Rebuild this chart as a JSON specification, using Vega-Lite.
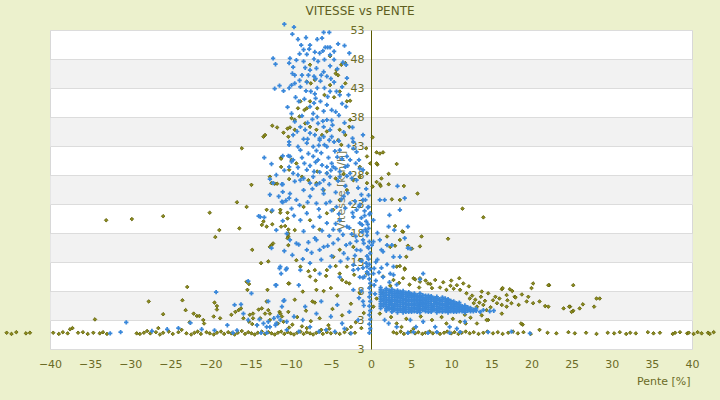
{
  "$schema": "https://vega.github.io/schema/vega-lite/v6.json",
  "width": 642,
  "height": 319,
  "autosize": {"type": "none"},
  "padding": {"left": 50, "top": 30, "right": 28, "bottom": 51},
  "background": "#ECF1CD",
  "title": {"text": "VITESSE vs PENTE", "anchor": "middle", "dx": -11, "offset": 4, "fontSize": 12, "fontWeight": "normal", "color": "#5e5e1e"},
  "config": {
    "font": "DejaVu Sans",
    "view": {"fill": "white", "stroke": "#d8d8d8"}
  },
  "datasets": {
    "olive": [
      {"pente":-45.4,"vitesse":0.8},{"pente":-44.8,"vitesse":0.6},{"pente":-44.2,"vitesse":0.9},{"pente":-43.0,"vitesse":0.7},{"pente":-42.5,"vitesse":0.8},
      {"pente":-39.6,"vitesse":0.8},{"pente":-38.9,"vitesse":0.6},{"pente":-38.4,"vitesse":0.9},{"pente":-37.8,"vitesse":0.7},{"pente":-37.2,"vitesse":1.6},{"pente":-36.5,"vitesse":0.8},{"pente":-35.9,"vitesse":0.9},{"pente":-35.3,"vitesse":0.6},{"pente":-34.6,"vitesse":0.8},{"pente":-33.8,"vitesse":0.7},{"pente":-33.4,"vitesse":0.9},{"pente":-32.9,"vitesse":0.6},
      {"pente":-29.2,"vitesse":0.7},{"pente":-28.8,"vitesse":0.6},{"pente":-28.3,"vitesse":0.8},{"pente":-27.9,"vitesse":1.1},{"pente":-27.5,"vitesse":0.7},{"pente":-26.8,"vitesse":0.9},{"pente":-26.3,"vitesse":0.5},{"pente":-25.9,"vitesse":0.8},{"pente":-25.2,"vitesse":1.0},{"pente":-24.7,"vitesse":0.6},{"pente":-24.0,"vitesse":0.9},{"pente":-23.6,"vitesse":1.3},{"pente":-23.0,"vitesse":0.7},{"pente":-22.4,"vitesse":0.5},{"pente":-22.0,"vitesse":0.8},{"pente":-21.6,"vitesse":1.0},{"pente":-21.2,"vitesse":0.6},{"pente":-20.5,"vitesse":0.9},{"pente":-20.1,"vitesse":0.7},{"pente":-19.6,"vitesse":0.5},{"pente":-19.2,"vitesse":0.8},{"pente":-18.7,"vitesse":1.0},{"pente":-18.3,"vitesse":0.6},{"pente":-17.8,"vitesse":0.9},{"pente":-17.4,"vitesse":0.7},{"pente":-17.0,"vitesse":0.5},{"pente":-16.6,"vitesse":0.8},{"pente":-16.1,"vitesse":1.1},{"pente":-15.7,"vitesse":0.6},{"pente":-15.3,"vitesse":0.9},{"pente":-14.9,"vitesse":0.7},{"pente":-14.5,"vitesse":0.5},{"pente":-14.1,"vitesse":0.8},{"pente":-13.6,"vitesse":1.0},{"pente":-13.2,"vitesse":0.6},{"pente":-12.8,"vitesse":0.9},{"pente":-12.4,"vitesse":0.7},{"pente":-12.0,"vitesse":0.5},{"pente":-11.6,"vitesse":0.8},{"pente":-11.2,"vitesse":1.0},{"pente":-10.8,"vitesse":0.6},{"pente":-10.4,"vitesse":0.9},{"pente":-10.0,"vitesse":0.7},{"pente":-9.6,"vitesse":0.5},{"pente":-9.2,"vitesse":0.8},{"pente":-8.8,"vitesse":1.0},{"pente":-8.4,"vitesse":0.6},{"pente":-8.0,"vitesse":0.9},{"pente":-7.6,"vitesse":0.7},{"pente":-7.2,"vitesse":0.5},{"pente":-6.8,"vitesse":0.8},{"pente":-6.4,"vitesse":1.0},{"pente":-6.0,"vitesse":0.6},{"pente":-5.5,"vitesse":0.9},{"pente":-5.0,"vitesse":0.7},{"pente":-4.4,"vitesse":0.8},{"pente":-3.9,"vitesse":0.6},{"pente":-3.3,"vitesse":0.9},{"pente":-2.6,"vitesse":0.7},{"pente":-2.0,"vitesse":0.8},
      {"pente":2.8,"vitesse":0.9},{"pente":3.2,"vitesse":0.7},{"pente":3.7,"vitesse":1.0},{"pente":4.1,"vitesse":0.6},{"pente":4.6,"vitesse":0.8},{"pente":5.0,"vitesse":1.0},{"pente":5.5,"vitesse":0.7},{"pente":5.9,"vitesse":0.9},{"pente":6.4,"vitesse":0.6},{"pente":6.8,"vitesse":0.8},{"pente":7.3,"vitesse":1.0},{"pente":7.7,"vitesse":0.7},{"pente":8.2,"vitesse":0.9},{"pente":8.6,"vitesse":0.6},{"pente":9.1,"vitesse":0.8},{"pente":9.5,"vitesse":1.0},{"pente":10.0,"vitesse":0.7},{"pente":10.4,"vitesse":0.9},{"pente":10.9,"vitesse":0.6},{"pente":11.3,"vitesse":0.8},{"pente":11.8,"vitesse":1.0},{"pente":12.3,"vitesse":0.7},{"pente":12.8,"vitesse":0.9},{"pente":13.4,"vitesse":0.6},{"pente":14.0,"vitesse":0.8},{"pente":14.5,"vitesse":1.0},{"pente":15.2,"vitesse":0.7},{"pente":15.8,"vitesse":0.9},{"pente":16.4,"vitesse":0.6},{"pente":17.1,"vitesse":0.8},{"pente":17.7,"vitesse":1.0},{"pente":18.3,"vitesse":0.7},{"pente":19.0,"vitesse":0.9},{"pente":19.9,"vitesse":0.6},{"pente":21.0,"vitesse":1.3},{"pente":22.0,"vitesse":0.8},{"pente":23.1,"vitesse":0.7},{"pente":24.6,"vitesse":0.9},{"pente":25.4,"vitesse":0.7},{"pente":26.8,"vitesse":0.8},{"pente":28.1,"vitesse":0.6},{"pente":29.5,"vitesse":0.8},{"pente":30.3,"vitesse":0.7},{"pente":31.0,"vitesse":0.9},{"pente":31.8,"vitesse":0.6},{"pente":32.3,"vitesse":0.8},{"pente":33.0,"vitesse":0.7},{"pente":34.5,"vitesse":0.9},{"pente":35.2,"vitesse":0.7},{"pente":36.0,"vitesse":0.8},{"pente":37.6,"vitesse":0.6},{"pente":37.9,"vitesse":0.8},{"pente":38.5,"vitesse":0.9},{"pente":39.4,"vitesse":0.7},{"pente":39.6,"vitesse":0.8},{"pente":40.2,"vitesse":0.6},{"pente":40.7,"vitesse":0.9},{"pente":41.2,"vitesse":0.7},{"pente":42.0,"vitesse":0.8},{"pente":42.2,"vitesse":0.6},{"pente":42.7,"vitesse":0.9},{"pente":43.8,"vitesse":0.7},
      {"pente":-7.6,"vitesse":47.0},{"pente":-5.1,"vitesse":48.5},{"pente":-4.3,"vitesse":46.1},{"pente":-4.4,"vitesse":45.5},{"pente":-4.1,"vitesse":45.2},{"pente":-3.7,"vitesse":47.0},{"pente":-3.2,"vitesse":47.3},{"pente":-5.1,"vitesse":43.5},{"pente":-3.9,"vitesse":42.4},{"pente":-4.6,"vitesse":41.4},{"pente":-3.0,"vitesse":40.7},{"pente":-8.8,"vitesse":40.7},{"pente":-8.3,"vitesse":39.2},{"pente":-7.6,"vitesse":40.7},{"pente":-6.7,"vitesse":39.5},{"pente":-9.9,"vitesse":37.8},{"pente":-9.5,"vitesse":37.5},{"pente":-8.9,"vitesse":38.1},{"pente":-8.2,"vitesse":36.9},{"pente":-10.1,"vitesse":36.2},{"pente":-10.4,"vitesse":36.0},{"pente":-12.3,"vitesse":36.5},{"pente":-11.7,"vitesse":36.2},{"pente":-13.4,"vitesse":34.6},{"pente":-13.2,"vitesse":34.9},{"pente":-16.1,"vitesse":32.6},{"pente":-10.9,"vitesse":35.3},{"pente":-10.3,"vitesse":34.6},{"pente":-7.6,"vitesse":36.3},{"pente":-6.8,"vitesse":35.8},{"pente":-6.1,"vitesse":34.9},{"pente":-5.5,"vitesse":35.5},{"pente":-3.9,"vitesse":35.8},{"pente":-3.2,"vitesse":34.9},{"pente":-2.7,"vitesse":36.3},{"pente":-0.6,"vitesse":32.6},{"pente":0.2,"vitesse":34.5},{"pente":-0.5,"vitesse":31.2},{"pente":-0.1,"vitesse":30.0},{"pente":0.7,"vitesse":31.9},{"pente":0.8,"vitesse":29.8},{"pente":-11.2,"vitesse":31.0},{"pente":-11.2,"vitesse":29.4},{"pente":-9.9,"vitesse":30.6},{"pente":-9.3,"vitesse":30.0},{"pente":-8.6,"vitesse":27.7},{"pente":-7.8,"vitesse":27.1},{"pente":-6.7,"vitesse":28.6},{"pente":-5.5,"vitesse":28.3},{"pente":-4.4,"vitesse":27.4},{"pente":-3.4,"vitesse":28.2},{"pente":-1.4,"vitesse":27.7},{"pente":-0.5,"vitesse":26.6},{"pente":0.2,"vitesse":26.0},{"pente":-12.6,"vitesse":27.7},{"pente":-12.4,"vitesse":26.6},{"pente":-14.9,"vitesse":26.3},{"pente":-8.0,"vitesse":44.1},{"pente":-7.5,"vitesse":43.8},{"pente":-7.0,"vitesse":44.4},{"pente":-3.2,"vitesse":43.8},{"pente":-2.6,"vitesse":40.8},{"pente":-5.8,"vitesse":41.8},{"pente":-8.0,"vitesse":39.5},{"pente":-9.1,"vitesse":39.5},{"pente":-9.5,"vitesse":35.8},{"pente":-2.6,"vitesse":37.5},{"pente":-4.1,"vitesse":34.0},{"pente":-3.7,"vitesse":33.2},
      {"pente":-12.0,"vitesse":26.5},{"pente":-16.7,"vitesse":23.3},{"pente":-15.5,"vitesse":22.5},{"pente":-20.1,"vitesse":21.5},{"pente":-13.0,"vitesse":22.0},{"pente":-13.6,"vitesse":19.4},{"pente":-13.0,"vitesse":19.1},{"pente":-12.4,"vitesse":21.7},{"pente":-11.3,"vitesse":22.0},{"pente":-10.4,"vitesse":20.5},{"pente":-18.9,"vitesse":18.5},{"pente":-19.4,"vitesse":17.3},{"pente":-16.4,"vitesse":18.8},{"pente":-14.8,"vitesse":15.1},{"pente":-12.4,"vitesse":15.9},{"pente":-12.2,"vitesse":16.2},{"pente":-13.7,"vitesse":12.8},{"pente":-12.8,"vitesse":13.1},{"pente":-10.3,"vitesse":17.4},{"pente":-9.5,"vitesse":18.5},{"pente":-10.3,"vitesse":15.9},{"pente":-8.8,"vitesse":12.2},{"pente":-9.3,"vitesse":13.3},{"pente":-7.6,"vitesse":10.5},{"pente":-7.0,"vitesse":11.6},{"pente":-5.5,"vitesse":11.6},{"pente":-4.7,"vitesse":13.9},{"pente":-3.9,"vitesse":15.1},{"pente":-3.0,"vitesse":12.2},{"pente":-2.2,"vitesse":15.6},{"pente":-1.4,"vitesse":13.3},{"pente":-0.5,"vitesse":11.0},{"pente":-6.8,"vitesse":26.6},{"pente":-5.9,"vitesse":25.4},{"pente":-4.7,"vitesse":22.0},{"pente":-3.9,"vitesse":23.7},{"pente":-3.0,"vitesse":25.4},{"pente":-2.2,"vitesse":27.1},{"pente":-1.4,"vitesse":29.4},{"pente":-0.5,"vitesse":28.3},{"pente":-8.4,"vitesse":22.5},{"pente":-7.6,"vitesse":20.2},{"pente":-6.4,"vitesse":18.6},{"pente":-5.5,"vitesse":21.4},
      {"pente":1.1,"vitesse":31.7},{"pente":1.5,"vitesse":31.9},{"pente":0.7,"vitesse":30.0},{"pente":3.2,"vitesse":29.9},{"pente":2.2,"vitesse":28.2},{"pente":1.3,"vitesse":27.4},{"pente":0.7,"vitesse":26.8},{"pente":1.1,"vitesse":26.4},{"pente":4.1,"vitesse":26.1},{"pente":5.8,"vitesse":24.8},{"pente":3.6,"vitesse":23.7},{"pente":2.6,"vitesse":23.8},{"pente":11.4,"vitesse":22.2},{"pente":14.0,"vitesse":20.7},{"pente":9.6,"vitesse":17.0},{"pente":6.3,"vitesse":17.4},{"pente":6.1,"vitesse":15.7},{"pente":4.0,"vitesse":18.2},{"pente":3.6,"vitesse":16.8},{"pente":5.1,"vitesse":15.3},{"pente":4.4,"vitesse":13.9},{"pente":2.0,"vitesse":17.4},{"pente":2.4,"vitesse":15.6},{"pente":3.2,"vitesse":12.2},{"pente":4.2,"vitesse":11.9},{"pente":1.5,"vitesse":10.5},{"pente":5.3,"vitesse":10.2},{"pente":6.1,"vitesse":10.2},{"pente":11.0,"vitesse":10.2},{"pente":1.2,"vitesse":26.1},{"pente":2.2,"vitesse":26.4},{"pente":3.0,"vitesse":19.2},{"pente":3.9,"vitesse":18.3},{"pente":3.0,"vitesse":15.8},{"pente":4.6,"vitesse":15.8},{"pente":3.6,"vitesse":12.3},{"pente":4.2,"vitesse":11.7},
      {"pente":8.6,"vitesse":8.6},{"pente":9.4,"vitesse":8.2},{"pente":9.9,"vitesse":8.9},{"pente":10.7,"vitesse":9.0},{"pente":7.4,"vitesse":9.2},{"pente":7.6,"vitesse":8.5},{"pente":5.5,"vitesse":10.0},{"pente":6.1,"vitesse":9.6},{"pente":13.8,"vitesse":7.9},{"pente":14.6,"vitesse":7.6},{"pente":16.3,"vitesse":8.3},{"pente":17.3,"vitesse":8.3},{"pente":17.9,"vitesse":7.0},{"pente":16.9,"vitesse":7.3},{"pente":20.0,"vitesse":8.5},{"pente":20.2,"vitesse":9.3},{"pente":22.2,"vitesse":9.0},{"pente":25.2,"vitesse":9.0},{"pente":28.5,"vitesse":6.7},{"pente":15.2,"vitesse":6.4},{"pente":15.7,"vitesse":5.9},{"pente":16.3,"vitesse":5.6},{"pente":16.9,"vitesse":5.3},{"pente":17.5,"vitesse":5.9},{"pente":18.4,"vitesse":5.6},{"pente":19.4,"vitesse":6.2},{"pente":20.2,"vitesse":5.9},{"pente":21.0,"vitesse":6.2},{"pente":21.7,"vitesse":5.4},{"pente":22.1,"vitesse":5.3},{"pente":24.0,"vitesse":5.0},{"pente":24.8,"vitesse":5.3},{"pente":25.2,"vitesse":4.6},{"pente":26.0,"vitesse":5.0},{"pente":26.4,"vitesse":5.7},{"pente":27.8,"vitesse":5.3},{"pente":14.4,"vitesse":4.7},{"pente":14.6,"vitesse":3.0},{"pente":16.3,"vitesse":4.1},{"pente":13.2,"vitesse":2.4},{"pente":18.9,"vitesse":2.2},
      {"pente":2.8,"vitesse":9.9},{"pente":4.0,"vitesse":10.2},{"pente":7.1,"vitesse":9.3},{"pente":10.3,"vitesse":8.4},{"pente":11.1,"vitesse":8.2},{"pente":11.9,"vitesse":7.6},{"pente":12.3,"vitesse":6.7},{"pente":12.8,"vitesse":5.9},{"pente":13.2,"vitesse":5.3},{"pente":12.6,"vitesse":7.2},{"pente":13.0,"vitesse":6.5},{"pente":13.5,"vitesse":6.0},{"pente":14.0,"vitesse":5.6},{"pente":13.7,"vitesse":7.0},{"pente":14.2,"vitesse":6.3},{"pente":12.9,"vitesse":4.8},{"pente":14.9,"vitesse":5.2},{"pente":15.5,"vitesse":7.0},{"pente":16.0,"vitesse":6.7},{"pente":17.0,"vitesse":6.4},{"pente":18.0,"vitesse":6.9},{"pente":18.8,"vitesse":7.4},{"pente":19.6,"vitesse":7.0},{"pente":17.6,"vitesse":8.0},{"pente":22.1,"vitesse":9.0},{"pente":16.4,"vitesse":8.5},{"pente":28.1,"vitesse":6.7},{"pente":24.7,"vitesse":5.3},{"pente":25.0,"vitesse":4.4},{"pente":18.7,"vitesse":2.4},{"pente":14.4,"vitesse":3.0},
      {"pente":0.3,"vitesse":5.3},{"pente":0.7,"vitesse":6.7},{"pente":1.1,"vitesse":4.1},{"pente":1.5,"vitesse":7.6},{"pente":-0.1,"vitesse":8.7},{"pente":3.2,"vitesse":2.4},{"pente":3.8,"vitesse":1.8},{"pente":5.3,"vitesse":1.5},{"pente":9.4,"vitesse":2.4},{"pente":11.1,"vitesse":2.7},{"pente":11.8,"vitesse":2.4},{"pente":11.7,"vitesse":3.9},{"pente":2.4,"vitesse":8.9},{"pente":3.5,"vitesse":9.4},{"pente":4.8,"vitesse":9.1},{"pente":6.0,"vitesse":8.6},{"pente":6.8,"vitesse":9.8},{"pente":8.0,"vitesse":9.9},{"pente":9.0,"vitesse":9.5},{"pente":10.0,"vitesse":9.8},{"pente":11.5,"vitesse":9.3},{"pente":12.2,"vitesse":8.8},{"pente":2.5,"vitesse":3.5},{"pente":4.4,"vitesse":3.2},{"pente":6.2,"vitesse":3.6},{"pente":7.6,"vitesse":3.0},{"pente":8.8,"vitesse":3.5},{"pente":10.2,"vitesse":3.2},{"pente":12.4,"vitesse":3.4},{"pente":13.8,"vitesse":3.8},
      {"pente":-34.4,"vitesse":3.1},{"pente":-37.5,"vitesse":1.4},{"pente":-27.7,"vitesse":6.2},{"pente":-25.9,"vitesse":4.0},{"pente":-26.5,"vitesse":1.6},{"pente":-23.5,"vitesse":6.4},{"pente":-22.9,"vitesse":8.7},{"pente":-23.1,"vitesse":4.7},{"pente":-22.1,"vitesse":4.1},{"pente":-21.7,"vitesse":3.7},{"pente":-21.4,"vitesse":3.7},{"pente":-20.9,"vitesse":3.0},{"pente":-20.8,"vitesse":2.4},{"pente":-22.6,"vitesse":2.6},{"pente":-19.5,"vitesse":6.0},{"pente":-19.2,"vitesse":5.4},{"pente":-19.2,"vitesse":4.8},{"pente":-19.6,"vitesse":3.6},{"pente":-18.8,"vitesse":3.3},{"pente":-17.4,"vitesse":3.9},{"pente":-16.9,"vitesse":4.4},{"pente":-16.5,"vitesse":4.7},{"pente":-16.2,"vitesse":5.0},{"pente":-15.9,"vitesse":3.3},{"pente":-15.1,"vitesse":3.9},{"pente":-14.7,"vitesse":4.1},{"pente":-14.0,"vitesse":4.8},{"pente":-13.6,"vitesse":5.0},{"pente":-13.0,"vitesse":6.2},{"pente":-12.8,"vitesse":4.7},{"pente":-12.6,"vitesse":4.1},{"pente":-13.2,"vitesse":4.1},{"pente":-13.8,"vitesse":3.3},{"pente":-12.6,"vitesse":3.0},{"pente":-15.2,"vitesse":2.7},{"pente":-14.8,"vitesse":2.3},{"pente":-14.7,"vitesse":3.3},{"pente":-14.2,"vitesse":2.1},{"pente":-11.4,"vitesse":4.4},{"pente":-11.3,"vitesse":4.1},{"pente":-11.1,"vitesse":3.6},{"pente":-10.9,"vitesse":2.7},{"pente":-10.3,"vitesse":4.4},{"pente":-11.6,"vitesse":2.4},{"pente":-12.9,"vitesse":8.2},{"pente":-12.6,"vitesse":15.6},{"pente":-10.2,"vitesse":9.3},{"pente":-15.2,"vitesse":9.2},{"pente":-15.4,"vitesse":8.2},{"pente":-25.9,"vitesse":20.9},{"pente":-29.8,"vitesse":20.4},{"pente":-33.0,"vitesse":20.2},
      {"pente":-13.4,"vitesse":20.0},{"pente":-12.3,"vitesse":19.5},{"pente":-11.2,"vitesse":19.1},{"pente":-10.7,"vitesse":19.2},{"pente":-10.3,"vitesse":18.6},{"pente":-10.4,"vitesse":17.1},{"pente":-10.3,"vitesse":17.9},{"pente":-11.7,"vitesse":26.5},{"pente":-11.2,"vitesse":30.8},{"pente":-11.3,"vitesse":21.5},{"pente":-10.2,"vitesse":28.9},{"pente":-10.2,"vitesse":27.3},{"pente":-10.4,"vitesse":21.5},
      {"pente":-15.5,"vitesse":9.6},{"pente":-10.3,"vitesse":9.3},{"pente":-7.3,"vitesse":6.2},{"pente":-6.8,"vitesse":8.2},{"pente":-5.0,"vitesse":8.5},{"pente":-3.9,"vitesse":11.0},{"pente":-3.6,"vitesse":9.9},{"pente":-2.7,"vitesse":9.3},
      {"pente":-9.8,"vitesse":2.2},{"pente":-9.2,"vitesse":3.5},{"pente":-8.6,"vitesse":1.9},{"pente":-8.1,"vitesse":4.6},{"pente":-7.5,"vitesse":2.8},{"pente":-7.0,"vitesse":6.0},{"pente":-6.4,"vitesse":3.3},{"pente":-5.9,"vitesse":8.0},{"pente":-5.3,"vitesse":2.1},{"pente":-4.8,"vitesse":4.9},{"pente":-4.2,"vitesse":7.2},{"pente":-3.6,"vitesse":3.8},{"pente":-3.1,"vitesse":9.5},{"pente":-2.5,"vitesse":5.8},{"pente":-1.9,"vitesse":2.6},{"pente":-1.4,"vitesse":7.7},{"pente":-0.9,"vitesse":4.2},{"pente":-6.9,"vitesse":9.8},{"pente":-8.5,"vitesse":7.9},{"pente":-9.5,"vitesse":6.5},{"pente":-7.8,"vitesse":11.4},{"pente":-5.6,"vitesse":10.6},{"pente":-2.1,"vitesse":10.8},{"pente":-4.4,"vitesse":12.3},{"pente":-1.2,"vitesse":1.6},{"pente":-3.0,"vitesse":1.4},{"pente":-5.2,"vitesse":1.5},{"pente":-6.2,"vitesse":1.3},{"pente":-8.0,"vitesse":1.6},{"pente":-10.2,"vitesse":1.7},{"pente":-2.5,"vitesse":1.8}
    ],
    "bleu": [
      {"pente":-10.8,"vitesse":54.0},{"pente":-9.6,"vitesse":53.5},{"pente":-9.8,"vitesse":52.3},{"pente":-5.9,"vitesse":52.6},{"pente":-5.2,"vitesse":52.6},{"pente":-8.1,"vitesse":51.7},{"pente":-9.1,"vitesse":51.4},{"pente":-6.7,"vitesse":51.4},{"pente":-6.1,"vitesse":51.6},{"pente":-8.7,"vitesse":50.4},{"pente":-7.6,"vitesse":50.4},{"pente":-4.1,"vitesse":50.6},{"pente":-3.3,"vitesse":50.3},{"pente":-5.7,"vitesse":50.0},{"pente":-5.4,"vitesse":50.0},{"pente":-5.1,"vitesse":50.0},{"pente":-8.4,"vitesse":49.6},{"pente":-7.0,"vitesse":49.2},{"pente":-8.0,"vitesse":48.8},{"pente":-2.7,"vitesse":49.0},{"pente":-6.4,"vitesse":49.0},{"pente":-5.1,"vitesse":48.7},{"pente":-12.2,"vitesse":48.1},{"pente":-11.9,"vitesse":47.1},{"pente":-10.1,"vitesse":48.1},{"pente":-9.3,"vitesse":47.8},{"pente":-10.2,"vitesse":47.3},{"pente":-8.4,"vitesse":47.6},{"pente":-7.1,"vitesse":48.0},{"pente":-6.6,"vitesse":47.6},{"pente":-5.8,"vitesse":47.9},{"pente":-3.5,"vitesse":47.4},{"pente":-3.1,"vitesse":47.0},{"pente":-7.6,"vitesse":46.1},{"pente":-6.8,"vitesse":46.4},{"pente":-5.9,"vitesse":45.8},{"pente":-7.8,"vitesse":45.2},{"pente":-7.1,"vitesse":45.0},{"pente":-6.2,"vitesse":45.2},{"pente":-5.5,"vitesse":45.0},{"pente":-8.6,"vitesse":45.2},{"pente":-9.5,"vitesse":45.2},{"pente":-9.9,"vitesse":43.5},{"pente":-10.2,"vitesse":43.0},{"pente":-9.5,"vitesse":43.8},{"pente":-8.8,"vitesse":43.2},{"pente":-8.1,"vitesse":42.5},{"pente":-7.5,"vitesse":42.4},{"pente":-6.7,"vitesse":43.0},{"pente":-5.8,"vitesse":43.0},{"pente":-5.1,"vitesse":42.4},{"pente":-4.3,"vitesse":42.4},{"pente":-3.9,"vitesse":41.8},{"pente":-3.0,"vitesse":44.7},{"pente":-2.8,"vitesse":41.8},{"pente":-6.9,"vitesse":41.2},{"pente":-6.3,"vitesse":40.7},{"pente":-5.5,"vitesse":40.1},{"pente":-4.9,"vitesse":39.2},{"pente":-4.4,"vitesse":38.9},{"pente":-10.4,"vitesse":39.7},{"pente":-7.6,"vitesse":39.8},{"pente":-7.2,"vitesse":38.6},{"pente":-6.7,"vitesse":38.0},{"pente":-6.6,"vitesse":36.9},{"pente":-5.9,"vitesse":36.3},{"pente":-5.5,"vitesse":37.5},{"pente":-5.1,"vitesse":35.8},{"pente":-9.5,"vitesse":37.2},{"pente":-8.8,"vitesse":36.3},{"pente":-8.2,"vitesse":35.8},{"pente":-7.6,"vitesse":35.2},{"pente":-7.0,"vitesse":34.9},{"pente":-6.4,"vitesse":34.3},{"pente":-5.9,"vitesse":34.6},{"pente":-5.2,"vitesse":34.0},{"pente":-4.6,"vitesse":33.7},{"pente":-2.3,"vitesse":34.3},{"pente":-2.2,"vitesse":33.7},{"pente":-1.0,"vitesse":34.9},{"pente":-10.2,"vitesse":33.7},{"pente":-9.7,"vitesse":34.9},{"pente":-9.1,"vitesse":32.9},{"pente":-13.3,"vitesse":31.0},{"pente":-10.1,"vitesse":31.2},{"pente":-9.7,"vitesse":30.6},{"pente":-10.2,"vitesse":29.4},{"pente":-7.8,"vitesse":31.7},{"pente":-7.2,"vitesse":31.2},{"pente":-6.6,"vitesse":30.6},{"pente":-6.1,"vitesse":29.7},{"pente":-5.5,"vitesse":29.4},{"pente":-4.9,"vitesse":30.0},{"pente":-4.4,"vitesse":29.1},{"pente":-3.9,"vitesse":28.6},{"pente":-3.2,"vitesse":29.4},{"pente":-2.6,"vitesse":30.6},{"pente":-1.9,"vitesse":30.0},{"pente":-1.4,"vitesse":29.1},{"pente":-9.1,"vitesse":28.0},{"pente":-8.4,"vitesse":27.4},{"pente":-7.6,"vitesse":26.6},{"pente":-6.8,"vitesse":26.3},{"pente":-5.9,"vitesse":27.1},{"pente":-5.1,"vitesse":27.7},{"pente":-12.2,"vitesse":26.6},{"pente":-11.1,"vitesse":26.4},
      {"pente":-8.9,"vitesse":48.9},{"pente":-7.7,"vitesse":49.7},{"pente":-6.0,"vitesse":49.4},{"pente":-4.6,"vitesse":49.3},{"pente":-9.7,"vitesse":46.6},{"pente":-8.2,"vitesse":46.5},{"pente":-5.1,"vitesse":46.8},{"pente":-4.6,"vitesse":47.9},{"pente":-6.9,"vitesse":44.6},{"pente":-8.9,"vitesse":44.3},{"pente":-4.6,"vitesse":44.0},{"pente":-3.6,"vitesse":43.2},{"pente":-9.4,"vitesse":41.4},{"pente":-8.3,"vitesse":41.1},{"pente":-7.1,"vitesse":40.4},{"pente":-5.9,"vitesse":39.0},{"pente":-3.6,"vitesse":40.3},{"pente":-9.9,"vitesse":38.6},{"pente":-7.9,"vitesse":37.0},{"pente":-4.9,"vitesse":37.4},{"pente":-3.3,"vitesse":37.0},{"pente":-2.3,"vitesse":36.2},{"pente":-9.2,"vitesse":35.5},{"pente":-8.4,"vitesse":34.2},{"pente":-6.8,"vitesse":32.2},{"pente":-5.8,"vitesse":33.2},{"pente":-4.0,"vitesse":33.9},{"pente":-2.8,"vitesse":33.0},{"pente":-1.8,"vitesse":32.0},{"pente":-8.6,"vitesse":31.0},{"pente":-7.6,"vitesse":29.6},{"pente":-6.4,"vitesse":28.5},{"pente":-4.2,"vitesse":31.1},{"pente":-3.0,"vitesse":27.8},{"pente":-9.1,"vitesse":29.3},{"pente":-12.4,"vitesse":29.9},{"pente":-11.8,"vitesse":28.0},{"pente":-7.9,"vitesse":23.3},{"pente":-6.5,"vitesse":22.1},{"pente":-5.6,"vitesse":23.1},{"pente":-7.3,"vitesse":25.6},{"pente":-9.6,"vitesse":21.0},{"pente":-8.4,"vitesse":18.3},{"pente":-9.0,"vitesse":16.0},{"pente":-7.8,"vitesse":16.4},{"pente":-6.4,"vitesse":15.1},{"pente":-5.4,"vitesse":15.8},{"pente":-4.1,"vitesse":16.9},{"pente":-3.1,"vitesse":15.9},{"pente":-2.4,"vitesse":17.8},{"pente":-3.9,"vitesse":18.4},
      {"pente":-11.0,"vitesse":31.3},{"pente":-9.9,"vitesse":30.3},{"pente":-8.8,"vitesse":32.3},{"pente":-8.0,"vitesse":33.5},{"pente":-7.2,"vitesse":32.9},{"pente":-6.4,"vitesse":34.0},{"pente":-5.5,"vitesse":32.9},{"pente":-4.9,"vitesse":34.6},{"pente":-3.9,"vitesse":32.3},{"pente":-3.0,"vitesse":31.2},{"pente":-2.2,"vitesse":32.6},{"pente":-1.5,"vitesse":30.6},{"pente":-9.7,"vitesse":28.3},{"pente":-8.8,"vitesse":27.1},{"pente":-8.0,"vitesse":28.9},{"pente":-7.2,"vitesse":27.7},{"pente":-6.4,"vitesse":26.6},{"pente":-5.5,"vitesse":28.3},{"pente":-4.7,"vitesse":29.4},{"pente":-3.9,"vitesse":27.7},{"pente":-2.6,"vitesse":28.3},{"pente":-1.8,"vitesse":27.1},{"pente":-1.0,"vitesse":28.9},{"pente":-10.1,"vitesse":24.8},{"pente":-9.3,"vitesse":23.7},{"pente":-8.4,"vitesse":25.4},{"pente":-7.6,"vitesse":24.3},{"pente":-6.8,"vitesse":23.1},{"pente":-5.9,"vitesse":24.8},{"pente":-5.1,"vitesse":23.4},{"pente":-4.3,"vitesse":22.5},{"pente":-3.4,"vitesse":24.3},{"pente":-2.6,"vitesse":23.1},{"pente":-1.8,"vitesse":22.0},{"pente":-1.0,"vitesse":23.7},{"pente":-0.3,"vitesse":22.5},{"pente":-11.1,"vitesse":23.4},{"pente":-9.9,"vitesse":22.2},{"pente":-12.6,"vitesse":24.6},{"pente":-13.8,"vitesse":20.8},{"pente":-8.8,"vitesse":20.2},{"pente":-8.0,"vitesse":21.4},{"pente":-7.2,"vitesse":19.1},{"pente":-6.4,"vitesse":20.8},{"pente":-5.5,"vitesse":19.7},{"pente":-4.7,"vitesse":18.6},{"pente":-3.9,"vitesse":20.2},{"pente":-3.0,"vitesse":19.1},{"pente":-2.2,"vitesse":20.8},{"pente":-1.4,"vitesse":19.7},{"pente":-0.7,"vitesse":18.6},{"pente":-0.1,"vitesse":21.4},{"pente":0.3,"vitesse":20.2},{"pente":1.1,"vitesse":23.7},{"pente":1.7,"vitesse":23.7},{"pente":3.6,"vitesse":22.0},{"pente":4.6,"vitesse":19.1},{"pente":2.2,"vitesse":19.1},{"pente":-11.8,"vitesse":18.5},{"pente":-10.5,"vitesse":17.9},{"pente":-10.1,"vitesse":16.8},{"pente":-9.3,"vitesse":16.2},{"pente":-8.0,"vitesse":15.1},{"pente":-6.8,"vitesse":16.8},{"pente":-5.9,"vitesse":15.6},{"pente":-4.7,"vitesse":16.2},{"pente":-3.4,"vitesse":14.5},{"pente":-2.6,"vitesse":16.2},{"pente":-1.8,"vitesse":15.1},{"pente":-1.0,"vitesse":16.8},{"pente":-0.3,"vitesse":15.4},{"pente":0.1,"vitesse":15.9},{"pente":1.1,"vitesse":16.8},{"pente":2.0,"vitesse":15.9},{"pente":2.8,"vitesse":13.9},{"pente":3.6,"vitesse":13.9},{"pente":1.3,"vitesse":15.1},{"pente":-11.3,"vitesse":12.2},{"pente":-10.5,"vitesse":11.9},{"pente":-8.8,"vitesse":11.6},{"pente":-7.6,"vitesse":12.8},{"pente":-6.4,"vitesse":11.0},{"pente":-5.1,"vitesse":12.2},{"pente":-3.9,"vitesse":10.4},{"pente":-2.2,"vitesse":11.6},{"pente":-1.4,"vitesse":10.4},{"pente":-0.5,"vitesse":12.2},{"pente":0.3,"vitesse":11.0},{"pente":4.6,"vitesse":15.4},{"pente":2.4,"vitesse":11.0},{"pente":2.8,"vitesse":12.2},{"pente":6.5,"vitesse":11.0},
      {"pente":-6.9,"vitesse":30.2},{"pente":-6.2,"vitesse":31.8},{"pente":-5.3,"vitesse":31.0},{"pente":-4.5,"vitesse":32.1},{"pente":-3.6,"vitesse":30.8},{"pente":-2.9,"vitesse":29.6},{"pente":-5.0,"vitesse":28.8},{"pente":-4.1,"vitesse":27.0},{"pente":-3.2,"vitesse":26.1},{"pente":-2.4,"vitesse":27.4},{"pente":-1.6,"vitesse":25.8},{"pente":-6.0,"vitesse":25.5},{"pente":-5.2,"vitesse":26.4},{"pente":-4.4,"vitesse":25.0},{"pente":-3.7,"vitesse":23.8},{"pente":-2.9,"vitesse":24.9},{"pente":-2.0,"vitesse":23.5},{"pente":-1.2,"vitesse":24.6},{"pente":-0.6,"vitesse":25.6},{"pente":-4.9,"vitesse":21.9},{"pente":-4.0,"vitesse":21.3},{"pente":-3.2,"vitesse":22.3},{"pente":-2.3,"vitesse":21.5},{"pente":-1.5,"vitesse":22.6},{"pente":-0.8,"vitesse":21.0},{"pente":-0.4,"vitesse":19.5},{"pente":-1.1,"vitesse":18.2},{"pente":-1.9,"vitesse":17.4},{"pente":-2.7,"vitesse":18.9},{"pente":-3.5,"vitesse":17.7},{"pente":-4.4,"vitesse":19.6},{"pente":-5.2,"vitesse":17.5},{"pente":-6.1,"vitesse":18.4},{"pente":-7.0,"vitesse":17.1},{"pente":-2.9,"vitesse":13.6},{"pente":-2.0,"vitesse":14.1},{"pente":-1.2,"vitesse":13.2},{"pente":-0.5,"vitesse":14.0},{"pente":-3.8,"vitesse":13.1},{"pente":-4.9,"vitesse":14.0},{"pente":-6.2,"vitesse":13.4},{"pente":-7.4,"vitesse":14.6},{"pente":-8.5,"vitesse":13.5},{"pente":-9.8,"vitesse":14.2},{"pente":-8.9,"vitesse":22.8},{"pente":-9.5,"vitesse":26.9},{"pente":-10.8,"vitesse":28.8},{"pente":-11.5,"vitesse":24.3},{"pente":-8.3,"vitesse":30.0},{"pente":-7.1,"vitesse":28.6},{"pente":-6.5,"vitesse":33.1},{"pente":-7.9,"vitesse":34.2},{"pente":-3.4,"vitesse":35.4},{"pente":-4.8,"vitesse":36.6},{"pente":-6.0,"vitesse":37.3},{"pente":-7.3,"vitesse":37.6},{"pente":-8.6,"vitesse":38.2},{"pente":-9.0,"vitesse":40.7},{"pente":-4.0,"vitesse":38.3},{"pente":-3.1,"vitesse":39.8},{"pente":-5.4,"vitesse":41.5},{"pente":-7.0,"vitesse":42.0},{"pente":-6.3,"vitesse":44.2},{"pente":-5.0,"vitesse":44.6},{"pente":-4.2,"vitesse":46.3},{"pente":-8.0,"vitesse":44.0},{"pente":-9.8,"vitesse":45.5},{"pente":-10.9,"vitesse":42.5},{"pente":-11.4,"vitesse":43.4},{"pente":-12.0,"vitesse":42.9},
      {"pente":-0.2,"vitesse":0.8},{"pente":-0.1,"vitesse":1.5},{"pente":-0.2,"vitesse":2.3},{"pente":-0.1,"vitesse":3.1},{"pente":-0.2,"vitesse":3.9},{"pente":-0.1,"vitesse":4.6},{"pente":-0.2,"vitesse":5.4},{"pente":-0.1,"vitesse":6.2},{"pente":-0.2,"vitesse":7.0},{"pente":-0.1,"vitesse":7.7},{"pente":-0.2,"vitesse":8.5},{"pente":-0.1,"vitesse":9.3},{"pente":-0.2,"vitesse":10.1},{"pente":-0.3,"vitesse":10.9},{"pente":-0.1,"vitesse":11.8},{"pente":-0.2,"vitesse":12.6},{"pente":-0.3,"vitesse":13.5},{"pente":-0.1,"vitesse":14.5},{"pente":-0.4,"vitesse":15.6},{"pente":-0.2,"vitesse":16.5},{"pente":-0.5,"vitesse":17.6},{"pente":-0.3,"vitesse":18.8},{"pente":-0.6,"vitesse":20.0},{"pente":-0.2,"vitesse":21.2},{"pente":-0.4,"vitesse":22.4},{"pente":-0.7,"vitesse":23.7},{"pente":-0.9,"vitesse":5.5},{"pente":-1.2,"vitesse":8.0},{"pente":-0.8,"vitesse":10.5},{"pente":-1.5,"vitesse":6.8},{"pente":0.4,"vitesse":9.0},{"pente":0.6,"vitesse":13.0},{"pente":0.3,"vitesse":16.5},{"pente":0.8,"vitesse":18.0},{"pente":0.5,"vitesse":7.5},{"pente":-1.0,"vitesse":12.0},{"pente":-0.6,"vitesse":12.8},{"pente":-1.3,"vitesse":15.0},{"pente":-0.9,"vitesse":16.2},{"pente":-0.5,"vitesse":18.2},{"pente":-1.1,"vitesse":19.4},{"pente":-0.8,"vitesse":21.8},{"pente":-1.4,"vitesse":22.9},{"pente":-0.3,"vitesse":24.5},{"pente":-1.0,"vitesse":10.3},{"pente":-0.5,"vitesse":11.3},{"pente":-1.6,"vitesse":11.8},{"pente":-2.2,"vitesse":12.5},{"pente":-1.8,"vitesse":16.6},{"pente":-1.2,"vitesse":20.6},
      {"pente":1.2,"vitesse":5.0},{"pente":1.2,"vitesse":5.8},{"pente":1.2,"vitesse":6.6},{"pente":1.2,"vitesse":7.4},{"pente":1.2,"vitesse":8.2},{"pente":1.2,"vitesse":5.4},{"pente":1.2,"vitesse":6.2},{"pente":1.2,"vitesse":7.0},{"pente":1.2,"vitesse":7.8},{"pente":1.2,"vitesse":8.6},
      {"pente":1.9,"vitesse":4.6},{"pente":1.9,"vitesse":5.3},{"pente":1.9,"vitesse":6.1},{"pente":1.9,"vitesse":6.9},{"pente":1.9,"vitesse":7.7},{"pente":1.9,"vitesse":8.4},{"pente":1.9,"vitesse":4.9},{"pente":1.9,"vitesse":5.7},{"pente":1.9,"vitesse":6.5},{"pente":1.9,"vitesse":7.3},{"pente":1.9,"vitesse":8.1},
      {"pente":2.6,"vitesse":4.4},{"pente":2.6,"vitesse":5.1},{"pente":2.6,"vitesse":5.8},{"pente":2.6,"vitesse":6.5},{"pente":2.6,"vitesse":7.2},{"pente":2.6,"vitesse":7.9},{"pente":2.6,"vitesse":4.8},{"pente":2.6,"vitesse":5.5},{"pente":2.6,"vitesse":6.2},{"pente":2.6,"vitesse":6.9},{"pente":2.6,"vitesse":7.6},{"pente":2.6,"vitesse":8.3},
      {"pente":3.3,"vitesse":4.3},{"pente":3.3,"vitesse":5.0},{"pente":3.3,"vitesse":5.7},{"pente":3.3,"vitesse":6.4},{"pente":3.3,"vitesse":7.1},{"pente":3.3,"vitesse":7.8},{"pente":3.3,"vitesse":4.7},{"pente":3.3,"vitesse":5.4},{"pente":3.3,"vitesse":6.1},{"pente":3.3,"vitesse":6.8},{"pente":3.3,"vitesse":7.5},{"pente":3.3,"vitesse":8.1},
      {"pente":4.0,"vitesse":4.6},{"pente":4.0,"vitesse":5.3},{"pente":4.0,"vitesse":6.0},{"pente":4.0,"vitesse":6.7},{"pente":4.0,"vitesse":7.4},{"pente":4.0,"vitesse":8.0},{"pente":4.0,"vitesse":4.3},{"pente":4.0,"vitesse":4.9},{"pente":4.0,"vitesse":5.7},{"pente":4.0,"vitesse":6.4},{"pente":4.0,"vitesse":7.1},{"pente":4.0,"vitesse":7.7},
      {"pente":4.7,"vitesse":4.4},{"pente":4.7,"vitesse":5.1},{"pente":4.7,"vitesse":5.8},{"pente":4.7,"vitesse":6.5},{"pente":4.7,"vitesse":7.2},{"pente":4.7,"vitesse":7.8},{"pente":4.7,"vitesse":4.8},{"pente":4.7,"vitesse":5.5},{"pente":4.7,"vitesse":6.2},{"pente":4.7,"vitesse":6.9},{"pente":4.7,"vitesse":7.5},
      {"pente":5.4,"vitesse":4.5},{"pente":5.4,"vitesse":5.2},{"pente":5.4,"vitesse":5.9},{"pente":5.4,"vitesse":6.6},{"pente":5.4,"vitesse":7.3},{"pente":5.4,"vitesse":4.9},{"pente":5.4,"vitesse":5.6},{"pente":5.4,"vitesse":6.3},{"pente":5.4,"vitesse":7.0},{"pente":5.4,"vitesse":7.6},
      {"pente":6.1,"vitesse":4.3},{"pente":6.1,"vitesse":5.0},{"pente":6.1,"vitesse":5.7},{"pente":6.1,"vitesse":6.4},{"pente":6.1,"vitesse":7.1},{"pente":6.1,"vitesse":7.6},{"pente":6.1,"vitesse":4.7},{"pente":6.1,"vitesse":5.4},{"pente":6.1,"vitesse":6.1},{"pente":6.1,"vitesse":6.8},
      {"pente":6.8,"vitesse":4.5},{"pente":6.8,"vitesse":5.2},{"pente":6.8,"vitesse":5.9},{"pente":6.8,"vitesse":6.6},{"pente":6.8,"vitesse":7.2},{"pente":6.8,"vitesse":4.9},{"pente":6.8,"vitesse":5.6},{"pente":6.8,"vitesse":6.3},{"pente":6.8,"vitesse":6.9},
      {"pente":7.5,"vitesse":4.4},{"pente":7.5,"vitesse":5.1},{"pente":7.5,"vitesse":5.8},{"pente":7.5,"vitesse":6.5},{"pente":7.5,"vitesse":7.1},{"pente":7.5,"vitesse":4.8},{"pente":7.5,"vitesse":5.5},{"pente":7.5,"vitesse":6.2},{"pente":7.5,"vitesse":6.8},
      {"pente":8.2,"vitesse":4.6},{"pente":8.2,"vitesse":5.3},{"pente":8.2,"vitesse":6.0},{"pente":8.2,"vitesse":6.7},{"pente":8.2,"vitesse":4.3},{"pente":8.2,"vitesse":4.9},{"pente":8.2,"vitesse":5.7},{"pente":8.2,"vitesse":6.4},{"pente":8.2,"vitesse":7.0},
      {"pente":8.9,"vitesse":4.4},{"pente":8.9,"vitesse":5.1},{"pente":8.9,"vitesse":5.8},{"pente":8.9,"vitesse":6.5},{"pente":8.9,"vitesse":6.9},{"pente":8.9,"vitesse":4.8},{"pente":8.9,"vitesse":5.5},{"pente":8.9,"vitesse":6.2},
      {"pente":9.6,"vitesse":4.6},{"pente":9.6,"vitesse":5.3},{"pente":9.6,"vitesse":6.0},{"pente":9.6,"vitesse":6.6},{"pente":9.6,"vitesse":4.3},{"pente":9.6,"vitesse":4.9},{"pente":9.6,"vitesse":5.7},{"pente":9.6,"vitesse":6.3},
      {"pente":10.3,"vitesse":4.4},{"pente":10.3,"vitesse":5.0},{"pente":10.3,"vitesse":5.6},{"pente":10.3,"vitesse":6.2},{"pente":10.3,"vitesse":4.7},{"pente":10.3,"vitesse":5.3},{"pente":10.3,"vitesse":5.9},
      {"pente":11.0,"vitesse":4.5},{"pente":11.0,"vitesse":5.1},{"pente":11.0,"vitesse":5.7},{"pente":11.0,"vitesse":4.8},{"pente":11.0,"vitesse":5.4},{"pente":11.0,"vitesse":6.0},
      {"pente":11.7,"vitesse":4.3},{"pente":11.7,"vitesse":4.9},{"pente":11.7,"vitesse":5.5},{"pente":11.7,"vitesse":4.6},{"pente":11.7,"vitesse":5.2},
      {"pente":12.4,"vitesse":4.5},{"pente":12.4,"vitesse":5.1},{"pente":12.4,"vitesse":4.8},{"pente":13.1,"vitesse":4.6},{"pente":13.1,"vitesse":4.9},{"pente":14.0,"vitesse":4.7},{"pente":14.8,"vitesse":4.5},{"pente":13.6,"vitesse":4.4},{"pente":15.3,"vitesse":4.6},
      {"pente":1.55,"vitesse":5.4},{"pente":1.55,"vitesse":6.3},{"pente":1.55,"vitesse":7.1},{"pente":1.55,"vitesse":8.0},{"pente":1.55,"vitesse":5.8},{"pente":1.55,"vitesse":6.7},{"pente":1.55,"vitesse":7.5},
      {"pente":2.25,"vitesse":4.9},{"pente":2.25,"vitesse":5.6},{"pente":2.25,"vitesse":6.4},{"pente":2.25,"vitesse":7.3},{"pente":2.25,"vitesse":8.1},{"pente":2.25,"vitesse":5.2},{"pente":2.25,"vitesse":6.0},{"pente":2.25,"vitesse":6.8},{"pente":2.25,"vitesse":7.7},
      {"pente":2.95,"vitesse":4.7},{"pente":2.95,"vitesse":5.4},{"pente":2.95,"vitesse":6.2},{"pente":2.95,"vitesse":6.9},{"pente":2.95,"vitesse":7.6},{"pente":2.95,"vitesse":5.0},{"pente":2.95,"vitesse":5.8},{"pente":2.95,"vitesse":6.5},{"pente":2.95,"vitesse":7.3},{"pente":2.95,"vitesse":8.0},
      {"pente":3.65,"vitesse":4.6},{"pente":3.65,"vitesse":5.3},{"pente":3.65,"vitesse":6.1},{"pente":3.65,"vitesse":6.8},{"pente":3.65,"vitesse":7.5},{"pente":3.65,"vitesse":4.9},{"pente":3.65,"vitesse":5.7},{"pente":3.65,"vitesse":6.4},{"pente":3.65,"vitesse":7.2},{"pente":3.65,"vitesse":7.9},
      {"pente":4.35,"vitesse":4.8},{"pente":4.35,"vitesse":5.6},{"pente":4.35,"vitesse":6.3},{"pente":4.35,"vitesse":7.0},{"pente":4.35,"vitesse":7.7},{"pente":4.35,"vitesse":4.4},{"pente":4.35,"vitesse":5.2},{"pente":4.35,"vitesse":5.9},{"pente":4.35,"vitesse":6.6},{"pente":4.35,"vitesse":7.4},
      {"pente":5.05,"vitesse":4.7},{"pente":5.05,"vitesse":5.5},{"pente":5.05,"vitesse":6.2},{"pente":5.05,"vitesse":6.9},{"pente":5.05,"vitesse":7.5},{"pente":5.05,"vitesse":4.4},{"pente":5.05,"vitesse":5.1},{"pente":5.05,"vitesse":5.8},{"pente":5.05,"vitesse":6.5},{"pente":5.05,"vitesse":7.2},
      {"pente":5.75,"vitesse":4.8},{"pente":5.75,"vitesse":5.5},{"pente":5.75,"vitesse":6.3},{"pente":5.75,"vitesse":7.0},{"pente":5.75,"vitesse":4.4},{"pente":5.75,"vitesse":5.1},{"pente":5.75,"vitesse":5.9},{"pente":5.75,"vitesse":6.6},{"pente":5.75,"vitesse":7.3},
      {"pente":6.45,"vitesse":4.7},{"pente":6.45,"vitesse":5.4},{"pente":6.45,"vitesse":6.1},{"pente":6.45,"vitesse":6.8},{"pente":6.45,"vitesse":7.3},{"pente":6.45,"vitesse":5.0},{"pente":6.45,"vitesse":5.8},{"pente":6.45,"vitesse":6.5},
      {"pente":7.15,"vitesse":4.8},{"pente":7.15,"vitesse":5.5},{"pente":7.15,"vitesse":6.2},{"pente":7.15,"vitesse":6.9},{"pente":7.15,"vitesse":4.4},{"pente":7.15,"vitesse":5.2},{"pente":7.15,"vitesse":5.9},{"pente":7.15,"vitesse":6.6},{"pente":7.15,"vitesse":7.2},
      {"pente":7.85,"vitesse":4.7},{"pente":7.85,"vitesse":5.4},{"pente":7.85,"vitesse":6.2},{"pente":7.85,"vitesse":6.8},{"pente":7.85,"vitesse":5.0},{"pente":7.85,"vitesse":5.8},{"pente":7.85,"vitesse":6.5},
      {"pente":8.55,"vitesse":4.9},{"pente":8.55,"vitesse":5.6},{"pente":8.55,"vitesse":6.3},{"pente":8.55,"vitesse":4.5},{"pente":8.55,"vitesse":5.2},{"pente":8.55,"vitesse":5.9},{"pente":8.55,"vitesse":6.6},
      {"pente":9.25,"vitesse":4.8},{"pente":9.25,"vitesse":5.5},{"pente":9.25,"vitesse":6.2},{"pente":9.25,"vitesse":6.7},{"pente":9.25,"vitesse":4.5},{"pente":9.25,"vitesse":5.2},{"pente":9.25,"vitesse":5.8},
      {"pente":9.95,"vitesse":4.9},{"pente":9.95,"vitesse":5.6},{"pente":9.95,"vitesse":6.3},{"pente":9.95,"vitesse":4.5},{"pente":9.95,"vitesse":5.2},{"pente":9.95,"vitesse":5.9},
      {"pente":10.65,"vitesse":4.7},{"pente":10.65,"vitesse":5.3},{"pente":10.65,"vitesse":5.9},{"pente":10.65,"vitesse":4.4},{"pente":10.65,"vitesse":5.0},{"pente":10.65,"vitesse":5.6},
      {"pente":11.35,"vitesse":4.8},{"pente":11.35,"vitesse":5.4},{"pente":11.35,"vitesse":4.5},{"pente":11.35,"vitesse":5.1},{"pente":12.05,"vitesse":4.6},{"pente":12.05,"vitesse":5.2},{"pente":12.05,"vitesse":4.9},{"pente":12.75,"vitesse":4.8},{"pente":12.75,"vitesse":4.5},
      {"pente":3.3,"vitesse":26.1},{"pente":4.2,"vitesse":24.0},{"pente":2.3,"vitesse":21.1},{"pente":2.9,"vitesse":18.5},{"pente":4.2,"vitesse":17.1},{"pente":1.5,"vitesse":14.8},{"pente":2.6,"vitesse":15.9},{"pente":4.9,"vitesse":15.3},{"pente":6.1,"vitesse":10.0},{"pente":0.6,"vitesse":9.8},{"pente":1.0,"vitesse":11.2},{"pente":1.5,"vitesse":10.4},{"pente":2.0,"vitesse":12.6},{"pente":0.8,"vitesse":13.4},{"pente":2.3,"vitesse":9.5},{"pente":1.3,"vitesse":12.0},{"pente":2.8,"vitesse":10.8},{"pente":3.2,"vitesse":9.1},{"pente":0.4,"vitesse":11.9},
      {"pente":1.7,"vitesse":3.0},{"pente":2.2,"vitesse":2.4},{"pente":3.2,"vitesse":1.8},{"pente":4.9,"vitesse":3.0},{"pente":5.6,"vitesse":1.8},{"pente":6.5,"vitesse":2.7},{"pente":8.0,"vitesse":1.8},{"pente":9.8,"vitesse":1.8},{"pente":10.7,"vitesse":1.5},{"pente":11.7,"vitesse":2.7},
      {"pente":4.6,"vitesse":0.8},{"pente":5.3,"vitesse":0.9},{"pente":7.1,"vitesse":0.8},{"pente":8.2,"vitesse":0.9},{"pente":9.8,"vitesse":0.8},{"pente":11.1,"vitesse":0.9},{"pente":14.6,"vitesse":0.9},{"pente":17.5,"vitesse":1.0},{"pente":19.8,"vitesse":0.7},
      {"pente":-30.5,"vitesse":2.6},{"pente":-32.5,"vitesse":0.7},{"pente":-31.2,"vitesse":0.9},{"pente":-27.3,"vitesse":1.1},{"pente":-25.4,"vitesse":1.4},{"pente":-24.0,"vitesse":1.6},{"pente":-22.5,"vitesse":2.5},{"pente":-21.1,"vitesse":1.4},{"pente":-19.5,"vitesse":1.2},{"pente":-17.9,"vitesse":2.1},{"pente":-17.2,"vitesse":0.8},{"pente":-16.7,"vitesse":1.2},{"pente":-16.2,"vitesse":5.7},{"pente":-14.9,"vitesse":7.6},{"pente":-15.3,"vitesse":9.7},{"pente":-13.9,"vitesse":3.1},{"pente":-13.4,"vitesse":2.4},{"pente":-12.8,"vitesse":2.7},{"pente":-12.6,"vitesse":1.8},{"pente":-12.1,"vitesse":3.3},{"pente":-11.8,"vitesse":2.4},{"pente":-11.3,"vitesse":3.0},{"pente":-10.9,"vitesse":6.3},{"pente":-11.1,"vitesse":5.3},{"pente":-10.5,"vitesse":2.7},{"pente":-11.4,"vitesse":11.9},{"pente":-11.2,"vitesse":11.0},{"pente":-11.8,"vitesse":9.0},{"pente":-10.6,"vitesse":11.7},{"pente":-13.0,"vitesse":0.8},{"pente":-13.7,"vitesse":0.8},{"pente":-12.4,"vitesse":15.4},{"pente":-10.8,"vitesse":14.9},{"pente":-12.3,"vitesse":21.9},{"pente":-13.3,"vitesse":20.7},{"pente":-14.0,"vitesse":20.9},{"pente":-12.6,"vitesse":27.3},{"pente":-11.0,"vitesse":23.3},{"pente":-11.0,"vitesse":25.1},{"pente":-11.0,"vitesse":26.4},{"pente":-10.6,"vitesse":23.6},{"pente":-10.2,"vitesse":24.0},{"pente":-11.0,"vitesse":20.1},{"pente":-10.3,"vitesse":31.3},{"pente":-10.2,"vitesse":33.2},{"pente":-19.3,"vitesse":7.8},
      {"pente":-11.9,"vitesse":9.0},{"pente":-10.8,"vitesse":6.4},{"pente":-9.0,"vitesse":9.0},{"pente":-8.2,"vitesse":5.3},{"pente":-6.8,"vitesse":4.1},{"pente":-6.2,"vitesse":6.2},{"pente":-5.0,"vitesse":3.6},{"pente":-4.2,"vitesse":5.6},{"pente":-3.6,"vitesse":2.4},{"pente":-2.7,"vitesse":4.4},{"pente":-2.2,"vitesse":8.2},{"pente":-1.6,"vitesse":3.0},{"pente":-1.0,"vitesse":6.2},{"pente":-5.6,"vitesse":1.3},{"pente":-6.5,"vitesse":1.0},{"pente":-9.0,"vitesse":1.0},{"pente":-10.5,"vitesse":1.3},{"pente":-13.0,"vitesse":1.8},{"pente":-15.3,"vitesse":3.0},{"pente":-14.2,"vitesse":2.1},{"pente":-11.9,"vitesse":2.1},{"pente":-11.6,"vitesse":3.6},{"pente":-9.6,"vitesse":3.6},{"pente":-8.5,"vitesse":3.0},{"pente":-7.6,"vitesse":1.8},{"pente":-4.5,"vitesse":1.0},{"pente":-3.3,"vitesse":1.5},{"pente":-2.5,"vitesse":0.7},{"pente":-17.0,"vitesse":5.6},{"pente":-15.9,"vitesse":4.1},{"pente":-12.8,"vitesse":6.2}
    ]
  },
  "encoding": {
    "x": {
      "field": "pente",
      "type": "quantitative",
      "scale": {"domain": [-40, 40], "nice": false, "zero": false},
      "axis": {
        "values": [-40, -35, -30, -25, -20, -15, -10, -5, 0, 5, 10, 15, 20, 25, 30, 35, 40],
        "grid": false,
        "domain": false,
        "ticks": false,
        "tickSize": 0,
        "labelFlush": false,
        "labelPadding": 9,
        "labelFontSize": 11,
        "labelColor": "#6b6b26",
        "title": "Pente [%]",
        "titleFontSize": 11,
        "titleFontWeight": "normal",
        "titleColor": "#6b6b26",
        "titleX": 640,
        "titleY": 32,
        "titleAlign": "right",
        "titleBaseline": "middle"
      }
    }
  },
  "layer": [
    {
      "data": {"name": "olive"},
      "mark": {"type": "point", "shape": "diamond", "filled": true, "size": 13, "fill": "#8c8c1e", "stroke": "#5a5a00", "strokeWidth": 0.8, "opacity": 1},
      "encoding": {
        "y": {
          "field": "vitesse",
          "type": "quantitative",
          "scale": {"domain": [-2, 53], "nice": false, "zero": false},
          "axis": {
            "orient": "left",
            "values": [5.5, 15.5, 25.5, 35.5, 45.5],
            "grid": true,
            "gridColor": "#f2f2f2",
            "gridWidth": 29,
            "labels": false,
            "ticks": false,
            "domain": false,
            "title": null
          }
        }
      }
    },
    {
      "data": {"name": "bleu"},
      "mark": {"type": "point", "shape": "cross", "filled": true, "size": 19, "color": "#3a88da", "opacity": 1},
      "encoding": {
        "y": {
          "field": "vitesse",
          "type": "quantitative",
          "axis": {
            "orient": "left",
            "values": [-2, 3, 8, 13, 18, 23, 28, 33, 38, 43, 48, 53],
            "labelExpr": "datum.value < 0 ? '3' : datum.label",
            "offset": -321,
            "grid": true,
            "gridColor": "#dcdcdc",
            "ticks": false,
            "tickSize": 0,
            "domain": true,
            "domainColor": "#5a5a00",
            "domainWidth": 1,
            "labelColor": "#6b6b26",
            "labelFontSize": 11,
            "labelPadding": 7,
            "title": "Vitesse [km/h]",
            "titleColor": "#7a7a50",
            "titleFontSize": 11,
            "titleFontWeight": "normal",
            "titleX": -30,
            "titleY": 160,
            "titleAngle": -90,
            "titleAlign": "center",
            "titleBaseline": "middle"
          }
        }
      }
    }
  ],
  "resolve": {"axis": {"y": "independent"}}
}
